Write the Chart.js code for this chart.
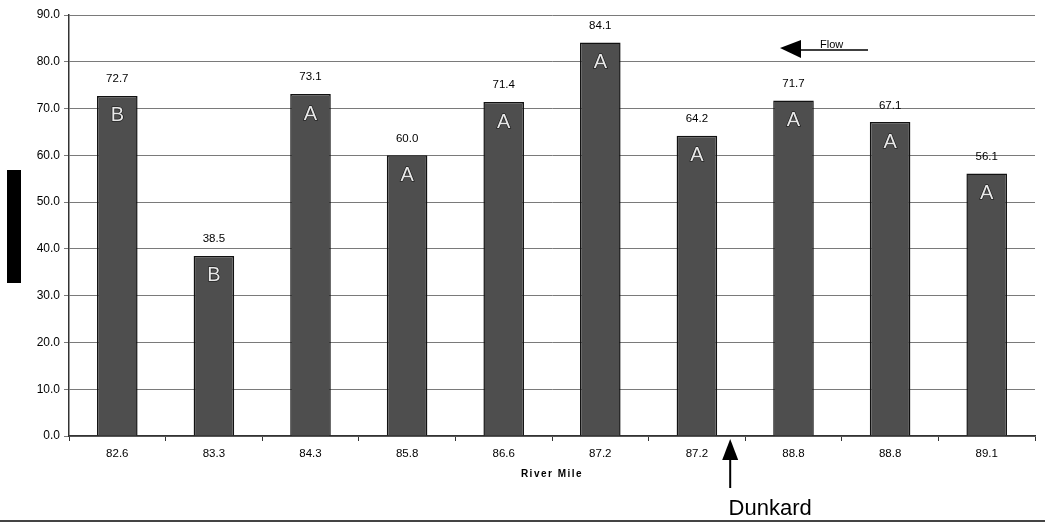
<!DOCTYPE html>
<html>
<head>
<meta charset="utf-8">
<script src="https://cdn.jsdelivr.net/npm/chart.js@4"></script>
<style>
  html, body { margin: 0; padding: 0; background: #fff; }
  #wrap { width: 1045px; height: 523px; }
</style>
</head>
<body>
<div id="wrap"><canvas id="chart" width="1045" height="523"></canvas></div>
<script>
var riverMiles = ["82.6", "83.3", "84.3", "85.8", "86.6", "87.2", "87.2", "88.8", "88.8", "89.1"];
var scores = [72.7, 38.5, 73.1, 60.0, 71.4, 84.1, 64.2, 71.7, 67.1, 56.1];
var groups = ["B", "B", "A", "A", "A", "A", "A", "A", "A", "A"];
var yTicks = [0, 10, 20, 30, 40, 50, 60, 70, 80, 90];

var extras = {
    id: "extras",
    afterDatasetsDraw: function (chart) {
        var ctx = chart.ctx,
            meta = chart.getDatasetMeta(0),
            x = chart.scales.x,
            area = chart.chartArea;
        ctx.save();
        // value labels and group letters
        meta.data.forEach(function (bar, i) {
            ctx.fillStyle = "#000";
            ctx.font = "11.5px Arial, 'Liberation Sans', sans-serif";
            ctx.textAlign = "center";
            ctx.textBaseline = "bottom";
            ctx.fillText(scores[i].toFixed(1), bar.x, bar.y - 11);
            ctx.font = "20px Arial, 'Liberation Sans', sans-serif";
            ctx.textBaseline = "top";
            ctx.fillStyle = "#e8e8e8";
            ctx.strokeStyle = "#111";
            ctx.lineWidth = 1.2;
            ctx.strokeText(groups[i], bar.x, bar.y + 10);
            ctx.fillText(groups[i], bar.x, bar.y + 10);
        });
        // x axis title
        ctx.fillStyle = "#000";
        ctx.font = "bold 10px Arial, 'Liberation Sans', sans-serif";
        ctx.textAlign = "center";
        ctx.textBaseline = "middle";
        ctx.letterSpacing = "1.5px";
        ctx.fillText("River Mile", (area.left + area.right) / 2, 474);
        ctx.letterSpacing = "0px";
        // redacted y axis title
        ctx.fillRect(7, 170, 14, 113);
        // Dunkard arrow
        var ax = (x.getPixelForValue(6) + x.getPixelForValue(7)) / 2 - 15;
        ctx.strokeStyle = "#000";
        ctx.lineWidth = 2;
        ctx.beginPath();
        ctx.moveTo(ax, 488);
        ctx.lineTo(ax, 455);
        ctx.stroke();
        ctx.beginPath();
        ctx.moveTo(ax, 439);
        ctx.lineTo(ax - 8, 460);
        ctx.lineTo(ax + 8, 460);
        ctx.closePath();
        ctx.fill();
        ctx.font = "22px Arial, 'Liberation Sans', sans-serif";
        ctx.textBaseline = "middle";
        ctx.fillText("Dunkard", ax + 40, 509);
        // Flow arrow
        ctx.lineWidth = 1.5;
        ctx.beginPath();
        ctx.moveTo(795, 50);
        ctx.lineTo(868, 50);
        ctx.stroke();
        ctx.beginPath();
        ctx.moveTo(780, 48);
        ctx.lineTo(801, 40);
        ctx.lineTo(801, 58);
        ctx.closePath();
        ctx.fill();
        ctx.font = "11px Arial, 'Liberation Sans', sans-serif";
        ctx.textAlign = "left";
        ctx.textBaseline = "bottom";
        ctx.fillText("Flow", 820, 50);
        // bottom border
        ctx.strokeStyle = "#444";
        ctx.lineWidth = 2;
        ctx.beginPath();
        ctx.moveTo(0, 521);
        ctx.lineTo(1045, 521);
        ctx.stroke();
        ctx.restore();
    }
};

var canvas = document.getElementById("chart");
var chart = new Chart(canvas.getContext("2d"), {
    type: "bar",
    data: {
        labels: riverMiles,
        datasets: [{
            data: scores,
            backgroundColor: "#4e4e4e",
            borderColor: "#111",
            borderWidth: 1.5,
            barPercentage: 0.42,
            categoryPercentage: 1.0
        }]
    },
    options: {
        responsive: false,
        animation: false,
        layout: { padding: { top: 15, right: 10, left: 0, bottom: 0 } },
        plugins: { legend: { display: false }, tooltip: { enabled: false } },
        scales: {
            x: {
                offset: true,
                grid: { display: true, offset: true, drawOnChartArea: false, color: "#333", tickLength: 5 },
                border: { color: "#333", width: 1.5 },
                ticks: { color: "#000", font: { size: 11.5, family: "Arial, 'Liberation Sans', sans-serif" }, padding: 6, autoSkip: false, maxRotation: 0 },
                afterFit: function (s) { s.height = 87; }
            },
            y: {
                min: 0,
                max: 90,
                afterBuildTicks: function (s) { s.ticks = yTicks.map(function (v) { return { value: v }; }); },
                grid: { color: "#7a7a7a", tickLength: 5, lineWidth: 1 },
                border: { color: "#333", width: 1.5 },
                ticks: {
                    color: "#000",
                    font: { size: 12, family: "Arial, 'Liberation Sans', sans-serif" },
                    padding: 4,
                    callback: function (v) { return v.toFixed(1); }
                },
                afterFit: function (s) { s.width = 69; }
            }
        }
    },
    plugins: [extras]
});
</script>
</body>
</html>
